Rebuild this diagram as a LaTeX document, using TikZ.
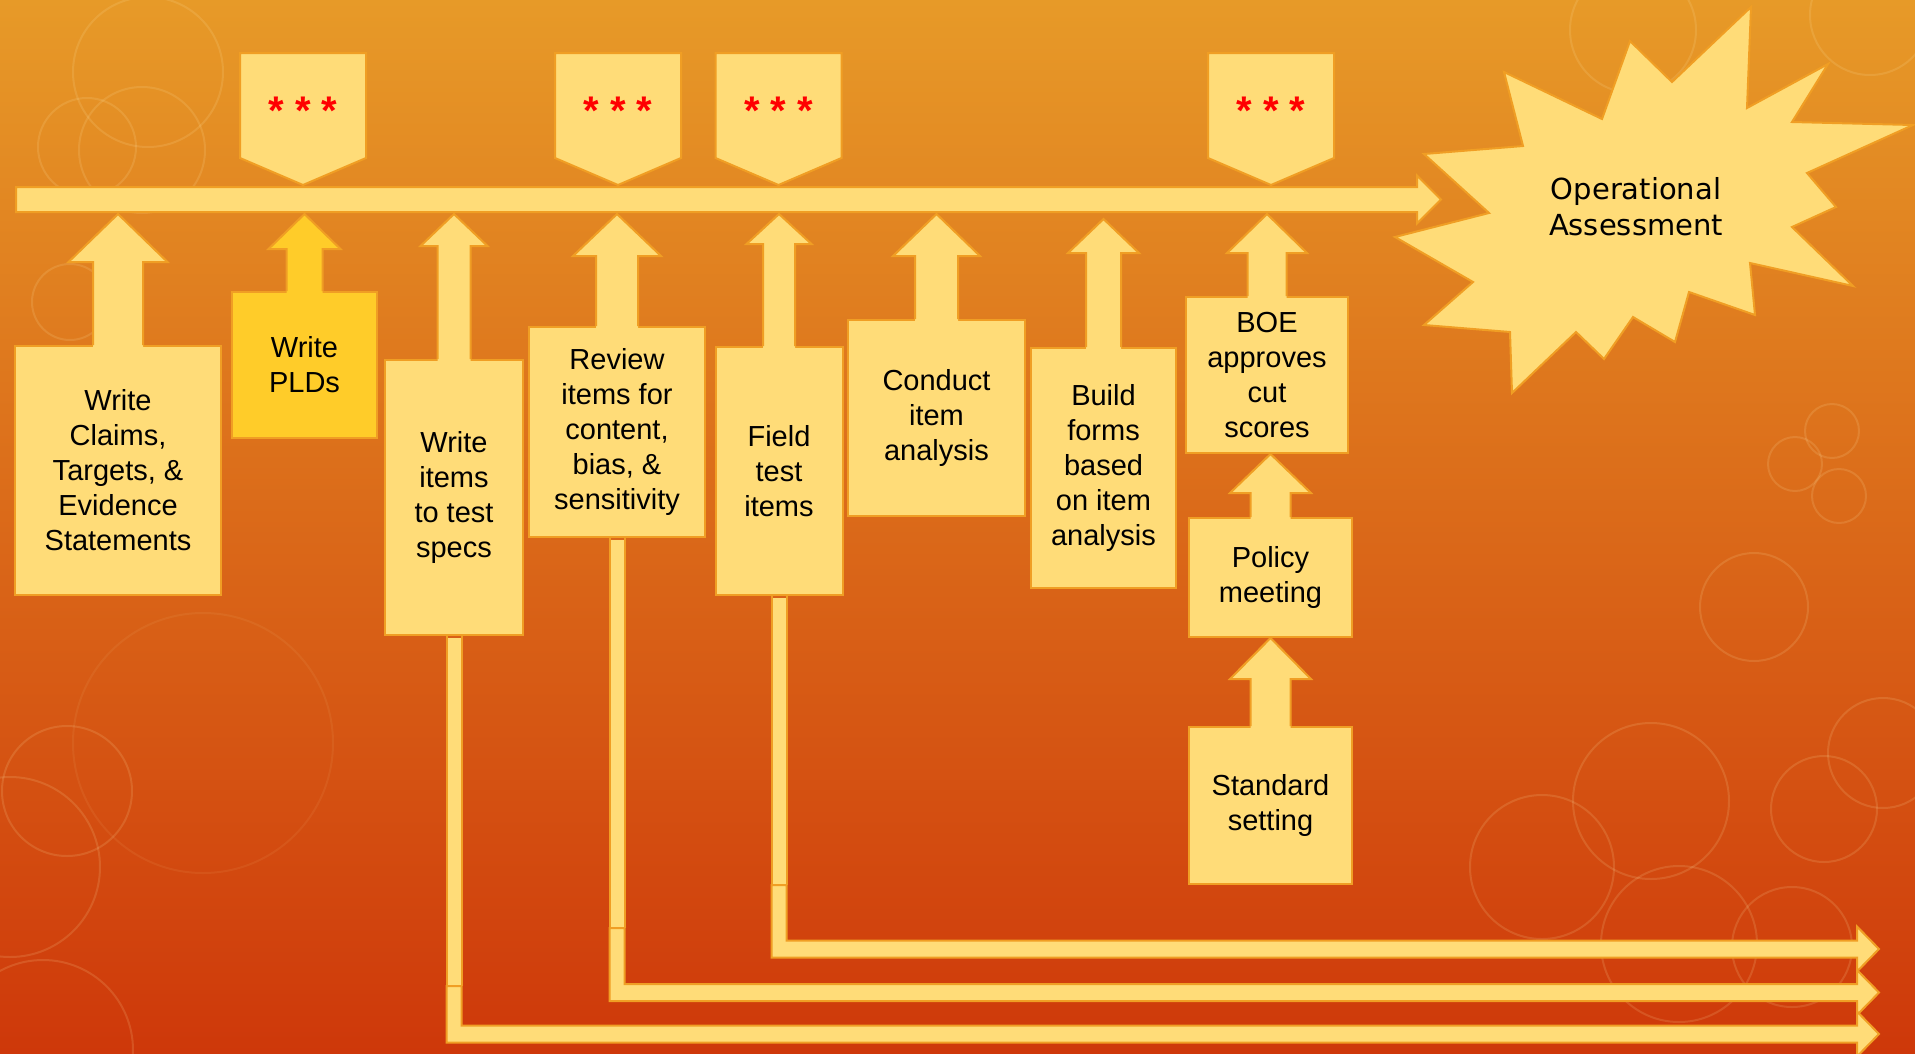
\documentclass[tikz,border=0pt]{standalone}
\usepackage{fontspec}
\setmainfont{Liberation Sans}
\newfontfamily\burstfont{DejaVu Sans}
\usepackage{tikz}
\usetikzlibrary{calc}
\definecolor{pale}{RGB}{255,220,120}
\definecolor{gold}{RGB}{255,204,41}
\definecolor{rimc}{RGB}{240,158,36}
\definecolor{ringc}{RGB}{255,232,170}
\definecolor{bgtop}{RGB}{231,154,40}
\definecolor{bgmid}{RGB}{216,104,26}
\definecolor{bgbot}{RGB}{206,56,10}
\newcommand\boxfont{\fontsize{29}{35}\selectfont}
\tikzset{%
  % Specifications for style of nodes:
            base/.style = {rectangle, draw=rimc, line width=2pt, inner sep=0pt,
                           align=center, font=\boxfont},
  box0/.style = {base, fill=pale},
  box1/.style = {base, fill=gold},
  rim/.style = {draw=rimc, line width=2pt},
  flat/.style = {fill=pale, draw=rimc, line width=2pt},
  ring/.style = {draw=ringc, line width=2pt, opacity=0.15},
  stars/.style = {anchor=base, text=red, font=\bfseries\fontsize{40}{40}\selectfont},
  bursttext/.style = {align=center, font=\burstfont\fontsize{29}{36}\selectfont},
}
% fat arrow going up from a node: fill, tail, tip level, shaft, head, head length
\newcommand\fatup[6]{%
  \fill[#1] ($(#2)+(-#4,2)$) -- ($(#2 |- #3)+(-#4,#6)$) -- ($(#2 |- #3)+(-#5,#6)$) -- (#2 |- #3)
    -- ($(#2 |- #3)+(#5,#6)$) -- ($(#2 |- #3)+(#4,#6)$) -- ($(#2)+(#4,2)$) -- cycle;
  \draw[rim] ($(#2)+(-#4,0)$) -- ($(#2 |- #3)+(-#4,#6)$) -- ($(#2 |- #3)+(-#5,#6)$) -- (#2 |- #3)
    -- ($(#2 |- #3)+(#5,#6)$) -- ($(#2 |- #3)+(#4,#6)$) -- ($(#2)+(#4,0)$);
}
% bent arrow from the bottom of a node to the right edge: node, seam, end
\newcommand\fatbend[3]{%
  \fill[pale] ($(#1.south)+(-7.5,2)$) rectangle ($(#1.south)+(7.5,#2)$);
  \draw[rim] ($(#1.south)+(-7.5,0)$) -- ($(#1.south)+(-7.5,#2)$);
  \draw[rim] ($(#1.south)+(7.5,0)$) -- ($(#1.south)+(7.5,#2)$);
  \filldraw[flat] ($(#1.south)+(-7.5,#2)$) -- ($(#1.south |- #3)+(-7.5,8.5)$) -- ($(#3)+(-22,8.5)$)
    -- ($(#3)+(-22,22.5)$) -- (#3) -- ($(#3)+(-22,-22.5)$) -- ($(#3)+(-22,-8.5)$)
    -- ($(#1.south |- #3)+(7.5,-8.5)$) -- ($(#1.south)+(7.5,#2)$) -- cycle;
}
% flag with stars above the time line
\newcommand\callout[2]{%
  \filldraw[flat] (#2-63,53) -- (#2+63,53) -- (#2+63,158) -- (#2,185) -- (#2-63,158) -- cycle;
  \node[stars] (#1) at (#2,124) {* * *};
}

\begin{document}
\begin{tikzpicture}[x=1pt, y=-1pt]

  \useasboundingbox (0,0) rectangle (1915,1053);
  \shade[top color=bgtop, middle color=bgmid, bottom color=bgbot] (0,0) rectangle (1915,1053);

  % rings in the background
  \draw[ring] (148,72) circle (75);   \draw[ring] (142,150) circle (63);
  \draw[ring] (87,147) circle (49);   \draw[ring] (70,302) circle (38);
  \draw[ring] (67,791) circle (65);   \draw[ring] (10,867) circle (90);
  \draw[ring, opacity=0.07] (203,743) circle (130);
  \draw[ring] (43,1050) circle (90);  \draw[ring] (1633,30) circle (63);
  \draw[ring] (1870,15) circle (60);  \draw[ring] (1832,431) circle (27);
  \draw[ring] (1795,464) circle (27); \draw[ring] (1839,496) circle (27);
  \draw[ring] (1754,607) circle (54); \draw[ring] (1651,801) circle (78);
  \draw[ring] (1542,867) circle (72); \draw[ring] (1679,944) circle (78);
  \draw[ring] (1824,809) circle (53); \draw[ring] (1883,753) circle (55);
  \draw[ring] (1792,947) circle (60);

  % time line
  \coordinate (tstart) at (16,199.5);
  \coordinate (tend)   at (1441,199.5);
  \coordinate (barbase)  at (0,214);
  \coordinate (barbase2) at (0,219);
  \filldraw[flat] ($(tstart)+(0,-12.5)$) -- ($(tend)+(-24,-12.5)$) -- ($(tend)+(-24,-24)$) -- (tend)
    -- ($(tend)+(-24,24)$) -- ($(tend)+(-24,12.5)$) -- ($(tstart)+(0,12.5)$) -- cycle;

  \callout{starsA}{303}
  \callout{starsB}{618}
  \callout{starsC}{778.5}
  \callout{starsD}{1271}

  % operational assessment
  \filldraw[flat] (1751,7) -- (1747,108) -- (1828,64) -- (1792,122) -- (1913,125) -- (1807,173)
    -- (1836,207) -- (1792,227) -- (1853,286) -- (1750,263) -- (1755,315) -- (1689,292)
    -- (1675,342) -- (1633,317) -- (1604,359) -- (1576,332) -- (1512,393) -- (1510,332)
    -- (1424,325) -- (1473,282) -- (1395,237) -- (1489,213) -- (1424,154) -- (1523,146)
    -- (1504,72) -- (1602,119) -- (1630,41) -- (1672,82) -- cycle;
  \node (oper) [bursttext] at (1636,207) {Operational\\Assessment};

  % Specification of nodes (position, etc.)
  \node (claims)   [box0, minimum width=206pt, minimum height=249pt] at (118,470.5)  {Write\\Claims,\\Targets, \&\\Evidence\\Statements};
  \node (plds)     [box1, minimum width=145pt, minimum height=146pt] at (304.5,365)  {Write\\PLDs};
  \node (items)    [box0, minimum width=138pt, minimum height=275pt] at (454,497.5)  {Write\\items\\to test\\specs};
  \node (review)   [box0, minimum width=176pt, minimum height=210pt] at (617,432)    {Review\\items for\\content,\\bias, \&\\sensitivity};
  \node (field)    [box0, minimum width=127pt, minimum height=248pt] at (779,471)    {Field\\test\\items};
  \node (conduct)  [box0, minimum width=177pt, minimum height=196pt] at (936.5,418)  {Conduct\\item\\analysis};
  \node (build)    [box0, minimum width=145pt, minimum height=240pt] at (1103.5,468) {Build\\forms\\based\\on item\\analysis};
  \node (boe)      [box0, minimum width=162pt, minimum height=156pt] at (1267,375)   {BOE\\approves\\cut\\scores};
  \node (policy)   [box0, minimum width=163pt, minimum height=119pt] at (1270.5,577.5) {Policy\\meeting};
  \node (standard) [box0, minimum width=163pt, minimum height=157pt] at (1270.5,805.5) {Standard\\setting};

  % arrows up to the time line
  \fatup{pale}{claims.north}{barbase}{25}{49.5}{48}
  \fatup{gold}{plds.north}{barbase}{18}{36}{35}
  \fatup{pale}{items.north}{barbase}{16.5}{33.5}{32}
  \fatup{pale}{review.north}{barbase}{21}{44}{42}
  \fatup{pale}{field.north}{barbase}{16}{32.5}{30}
  \fatup{pale}{conduct.north}{barbase}{21.5}{43.5}{42}
  \fatup{pale}{build.north}{barbase2}{17.5}{35.5}{34}
  \fatup{pale}{boe.north}{barbase}{19.5}{40}{39}
  \fatup{pale}{policy.north}{boe.south}{20}{40.5}{39}
  \fatup{pale}{standard.north}{policy.south}{20}{40.5}{41}

  % arrows out to the right
  \coordinate (outA) at (1879,949);
  \coordinate (outB) at (1879,992.5);
  \coordinate (outC) at (1879,1034);
  \fatbend{field}{289}{outA}
  \fatbend{review}{390}{outB}
  \fatbend{items}{350}{outC}

\end{tikzpicture}
\end{document}
